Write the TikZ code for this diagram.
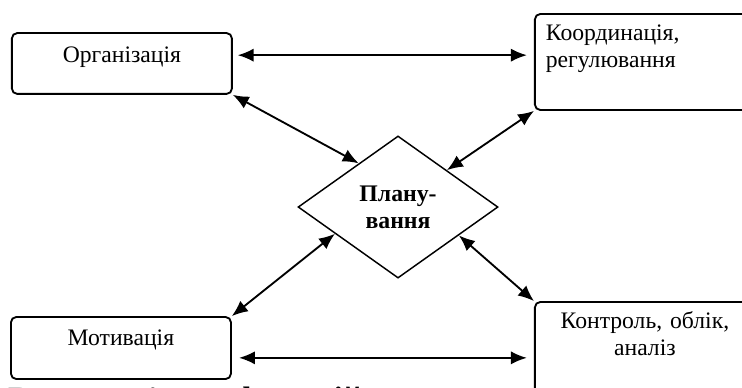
\documentclass[tikz,border=0pt]{standalone}
\usepackage{fontspec}
\setmainfont{Liberation Serif}
\usetikzlibrary{shapes.geometric,arrows.meta}
\begin{document}
\begin{tikzpicture}[
        box/.style={draw,line width=1.4pt,rounded corners=4pt,anchor=north west,
            inner xsep=0.29cm,inner ysep=0pt,font=\fontsize{17.8}{20}\selectfont},
        link/.style={line width=1.4pt,{Latex[length=12pt,width=10pt]}-{Latex[length=12pt,width=10pt]}}]
        \useasboundingbox (0,0) rectangle (19.63,10.24);
        %% functions round the centre
        \node[box,minimum width=5.82cm,text height=0.78cm,text depth=0.83cm] (org) at (0.29,9.39) {Організація};
        \node[box,text width=5.66cm,align=left,text height=0.714cm,text depth=1.825cm] (coord) at (14.127,9.894) {Координація,\\регулювання};
        \node[box,minimum width=5.82cm,text height=0.741cm,text depth=0.9cm] (mot) at (0.265,1.878) {Мотивація};
        \node[box,text width=5.24cm,align=center,text height=0.714cm,text depth=2.43cm] (ctrl) at (14.127,2.275) {Контроль, облік,\\аналіз};
        %% planning in the middle
        \node[diamond,draw,line width=1.1pt,minimum width=5.29cm,minimum height=3.76cm,inner sep=0pt,
            align=center,font=\bfseries\fontsize{17.9}{20.25}\selectfont] (plan) at (10.53,4.763) {Плану-\\вання};
        %% links
        \draw[link,shorten <=0.13cm,shorten >=0.19cm] ([yshift=0.22cm]org.east) -- ([yshift=0.22cm]org.east -| coord.west);
        \draw[link,shorten <=0.19cm,shorten >=0.19cm] ([yshift=-0.26cm]mot.east) -- ([yshift=-0.26cm]mot.east -| ctrl.west);
        \foreach \from/\ang in {org.south east/132,coord.south west/37,mot.north east/203,ctrl.north west/335}
            \draw[link] (\from) -- (plan.\ang);
        %% caption, cut by the page edge
        \node[anchor=base west,inner sep=0pt,font=\bfseries\fontsize{25.5}{30}\selectfont] (title) at (0.21,-0.62) {Взаємозв’язок функцій};
    \end{tikzpicture}
\end{document}
